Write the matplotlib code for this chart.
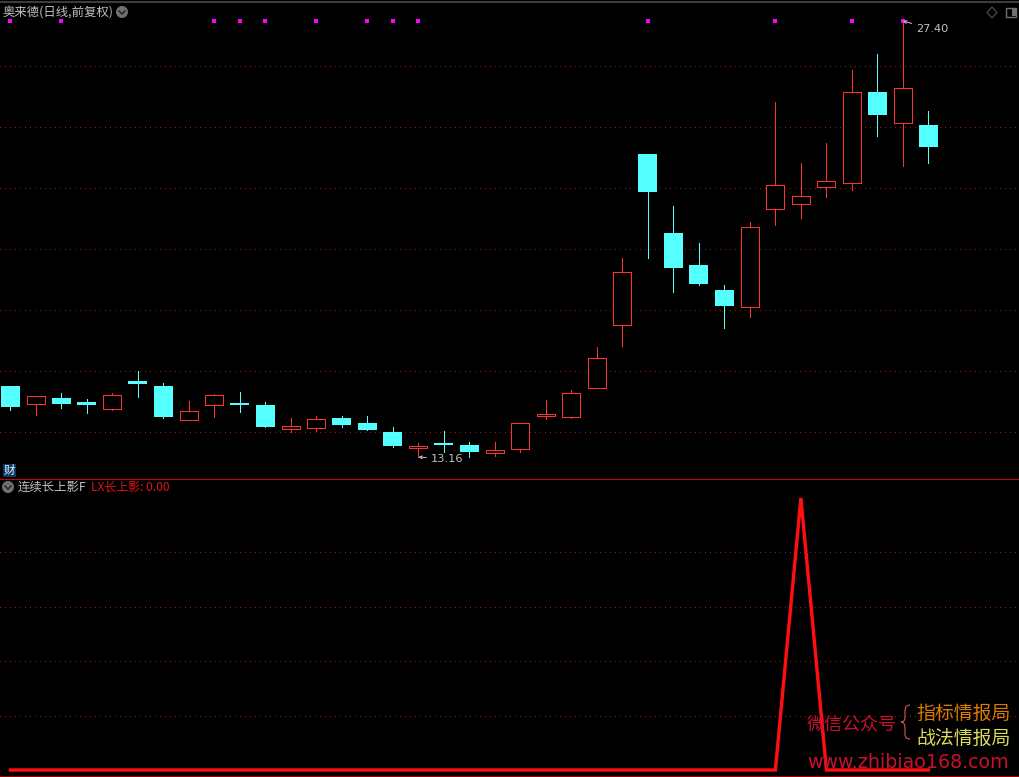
import matplotlib
matplotlib.use("Agg")
import matplotlib.pyplot as plt
from matplotlib.patches import Circle, Polygon, PathPatch, Rectangle
from matplotlib.path import Path

plt.rcParams['font.family'] = ['Noto Sans CJK SC', 'DejaVu Sans']

opens = [15.48,14.89,15.09,14.95,14.73,15.64,15.48,14.37,14.86,14.89,14.86,14.07,14.11,14.43,14.27,13.97,13.45,13.58,13.55,13.29,13.42,14.50,14.46,15.41,17.47,23.05,20.47,19.43,18.61,18.06,21.26,21.42,21.98,22.11,25.08,24.07,24.00]
closes = [14.79,15.15,14.89,14.86,15.18,15.54,14.46,14.66,15.18,14.86,14.14,14.17,14.40,14.20,14.04,13.52,13.52,13.55,13.32,13.39,14.27,14.56,15.25,16.39,19.20,21.81,19.33,18.81,18.09,20.67,22.04,21.68,22.17,25.08,24.33,25.21,23.28]
highs = [15.48,15.15,15.25,15.05,15.25,15.97,15.58,14.99,15.22,15.28,14.95,14.43,14.50,14.50,14.50,14.14,13.62,14.01,13.65,13.65,14.27,15.02,15.35,16.75,19.66,23.05,21.36,20.15,18.78,20.83,24.75,22.76,23.40,25.80,26.32,27.40,24.46]
lows = [14.69,14.53,14.76,14.60,14.69,15.12,14.43,14.37,14.46,14.63,14.14,13.97,14.01,14.14,14.04,13.49,13.16,13.32,13.16,13.19,13.32,14.40,14.43,15.41,16.78,19.66,18.55,18.78,17.37,17.73,20.74,20.96,21.65,21.88,23.64,22.66,22.76]
is_up = [False,True,False,False,True,False,False,True,True,False,False,True,True,False,False,False,True,False,False,True,True,True,True,True,True,False,False,False,False,True,True,True,True,True,False,True,False]
signal_idx = [0,2,8,9,10,12,14,15,16,25,30,33,35]
signal_price = 27.40
price_grid = [25.93,23.94,21.95,19.95,17.96,15.97,13.97]
lx_values = [0]*31 + [1] + [0]*5
lx_grid = [0.2,0.4,0.6,0.8]

RED = '#ff3232'
CYAN = '#54ffff'
GRID = '#a01414'
GRAY = '#c0c0c0'
W, H = 1020, 777
px = 72/100
fig = plt.figure(figsize=(W/100, H/100), dpi=100, facecolor='black')

def pane(top, bottom):
    a = fig.add_axes([0, 1-bottom/H, 1, (bottom-top)/H], facecolor='black')
    a.set_xlim(-10.4/25.5, (W-10.4)/25.5)
    a.set_axis_off()
    return a

ax = pane(0, 478)
ax.set_ylim(28.086-0.03266*478, 28.086)
for g in price_grid:
    ax.axhline(g, color=GRID, lw=px, ls=(0, (1, 5)), zorder=1, antialiased=False)
n = len(opens)
for i in range(n):
    c = RED if is_up[i] else CYAN
    ax.vlines(i, lows[i], highs[i], color=c, lw=px, zorder=2, antialiased=False)
    lo, hi = min(opens[i], closes[i]), max(opens[i], closes[i])
    if is_up[i]:
        ax.bar(i, hi-lo, bottom=lo, width=0.71, facecolor='black', edgecolor=c,
               linewidth=px, zorder=3, antialiased=False)
    else:
        ax.bar(i, max(hi-lo, 0.06), bottom=lo, width=0.745, facecolor=c, edgecolor='none',
               linewidth=0, zorder=3, antialiased=False)
ax.scatter(signal_idx, [signal_price]*len(signal_idx), marker='s', s=5.5, color='#ff00ff', linewidths=0, zorder=4)

imax = highs.index(max(highs))
imin = lows.index(min(lows))
ax.annotate(f'{max(highs):.2f}', xy=(imax, max(highs)), xytext=(13, -8), textcoords='offset pixels',
            color=GRAY, fontsize=8.2, family='DejaVu Sans', va='center', ha='left', zorder=5,
            arrowprops=dict(arrowstyle='->', color=GRAY, lw=px, shrinkA=1, shrinkB=0, mutation_scale=5))
ax.annotate(f'{min(lows):.2f}', xy=(imin, min(lows)), xytext=(12, -2), textcoords='offset pixels',
            color=GRAY, fontsize=8.2, family='DejaVu Sans', va='center', ha='left', zorder=5,
            arrowprops=dict(arrowstyle='->', color=GRAY, lw=px, shrinkA=1, shrinkB=0, mutation_scale=5))

ax2 = pane(479, 775)
ax2.set_ylim((770-775)/272, (770-479)/272)
for g in lx_grid:
    ax2.axhline(g, color=GRID, lw=px, ls=(0, (1, 5)), zorder=1, antialiased=False)
ax2.plot(range(n), lx_values, color='#ff0f0f', lw=px*3.4, solid_joinstyle='miter', zorder=3)

# overlay in pixel coordinates for the frame, header texts and icons
ov = fig.add_axes([0, 0, 1, 1], facecolor='none')
ov.set_xlim(0, W); ov.set_ylim(H, 0); ov.set_axis_off()
ov.plot([0, W], [1.5, 1.5], color='#3c3c3c', lw=px*2)
ov.plot([0, W], [478.5, 478.5], color='#c80000', lw=px)
ov.plot([0, W], [775.5, 775.5], color='#a00000', lw=px)

def chevron(x, y):
    ov.add_patch(Circle((x, y), 6, facecolor='#707070', edgecolor='none'))
    ov.plot([x-3, x, x+3], [y-1, y+2, y-1], color='#1a1a1a', lw=px*1.3)

ov.text(3, 12, '奥来德(日线,前复权)', color=GRAY, fontsize=8.9, va='center', ha='left')
chevron(122, 12)
ov.add_patch(Polygon([(992, 7), (997, 12.5), (992, 18), (987, 12.5)], fill=False, edgecolor='#5a5a5a', lw=px))
ov.add_patch(Rectangle((1006, 8), 10, 9, fill=False, edgecolor='#707070', lw=px*1.4))
ov.add_patch(Rectangle((1012, 9), 4, 7, facecolor='#707070', edgecolor='none'))

ov.add_patch(Rectangle((3, 464), 13, 13, facecolor='#0a3a6a', edgecolor='none'))
ov.text(9.5, 470.5, '财', color='#f0f0f0', fontsize=8.2, va='center', ha='center')

chevron(8, 487)
ov.text(18, 487, '连续长上影F', color=GRAY, fontsize=8.9, va='center', ha='left')
ov.text(91, 487, 'LX长上影: 0.00', color='#e81010', fontsize=8.6, va='center', ha='left')

ov.text(807, 724.5, '微信公众号', color='#c8102e', fontsize=13, va='center', ha='left')
ov.text(916, 713, '指标情报局', color='#d97c00', fontsize=13.6, va='center', ha='left')
ov.text(916, 738, '战法情报局', color='#dcdc5a', fontsize=13.6, va='center', ha='left')
ov.text(807, 762.5, 'www.zhibiao168.com', color='#c8102e', fontsize=13.65, family='DejaVu Sans', va='center', ha='left')
brace = Path([(910, 705), (905, 705), (905, 711), (905, 717), (905, 722), (901, 722), (905, 722), (905, 728), (905, 734), (905, 739), (910, 739)],
             [Path.MOVETO, Path.CURVE3, Path.CURVE3, Path.LINETO, Path.CURVE3, Path.CURVE3, Path.CURVE3, Path.CURVE3, Path.LINETO, Path.CURVE3, Path.CURVE3])
ov.add_patch(PathPatch(brace, fill=False, edgecolor='#c8504a', lw=px*1.2))

fig.savefig('out.png', dpi=100, facecolor='black')
